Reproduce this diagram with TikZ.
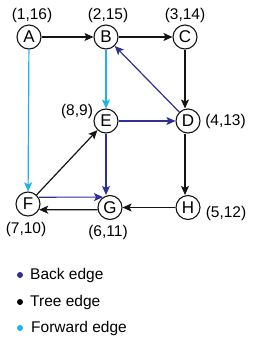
\documentclass[tikz,border=0pt]{standalone}
\usepackage{fontspec}
\setmainfont{Liberation Sans}
\usetikzlibrary{arrows.meta}
\definecolor{backc}{RGB}{46,49,146}
\definecolor{fwdc}{RGB}{28,178,234}
\definecolor{treec}{RGB}{20,20,20}
\begin{document}
\begin{tikzpicture}[x=1pt,y=-1pt,
  vtx/.style={circle,draw=treec,line width=1.1pt,minimum size=24pt,inner sep=0pt,font=\fontsize{17}{17}\selectfont},
  lab/.style={font=\fontsize{15.5}{15.5}\selectfont,inner sep=0pt},
  edg/.style={line width=1.2pt,-{Stealth[length=9pt,width=8pt,inset=2pt]}},
  tree/.style={edg,draw=treec},
  back/.style={edg,draw=backc},
  fwd/.style={edg,draw=fwdc},
  legdot/.style={circle,inner sep=0pt,minimum size=6pt},
  legtext/.style={font=\fontsize{15.5}{15.5}\selectfont,inner sep=0pt,anchor=west}]
\useasboundingbox (0,0) rectangle (255,349);
% vertices
\node[vtx] (A) at (29,37) {A};
\node[vtx] (B) at (106,37) {B};
\node[vtx] (C) at (185,37) {C};
\node[vtx] (D) at (188,121) {D};
\node[vtx] (E) at (106,121) {E};
\node[vtx] (F) at (28,204) {F};
\node[vtx] (G) at (110,207.5) {G};
\node[vtx] (H) at (188,207.5) {H};
% labels
\node[lab] (lA) at (32,15) {(1,16)};
\node[lab] (lB) at (108,15) {(2,15)};
\node[lab] (lC) at (185,15) {(3,14)};
\node[lab] (lE) at (77,111) {(8,9)};
\node[lab] (lD) at (225.5,121.5) {(4,13)};
\node[lab] (lH) at (226,213) {(5,12)};
\node[lab] (lF) at (26,229) {(7,10)};
\node[lab] (lG) at (108,232) {(6,11)};
% tree edges
\draw[tree] (A) -- (B);
\draw[tree] (B) -- (C);
\draw[tree] (C.south) -- (C.south |- D.north);
\draw[tree] (D.south -| C.south) -- (C.south |- H.north);
\draw[tree] (H) -- (G);
\draw[tree] (G.190) -- (F.333);
\draw[tree] (F) -- (E);
% back edges
\draw[back] (D) -- (B);
\draw[back] (E) -- (D);
\draw[back] (E.south) -- (E.south |- G.north);
\draw[back] (F.33) -- (G.124);
% forward edges
\draw[fwd] (A) -- (F);
\draw[fwd] (B) -- (E);
% legend
\node[legdot,fill=backc] (d1) at (20,275) {};
\node[legdot,fill=black] (d2) at (20,302) {};
\node[legdot,fill=fwdc] (d3) at (20,328) {};
\node[legtext] (t1) at (30,275) {Back edge};
\node[legtext] (t2) at (30,302) {Tree edge};
\node[legtext] (t3) at (31,328) {Forward edge};
\end{tikzpicture}
\end{document}
